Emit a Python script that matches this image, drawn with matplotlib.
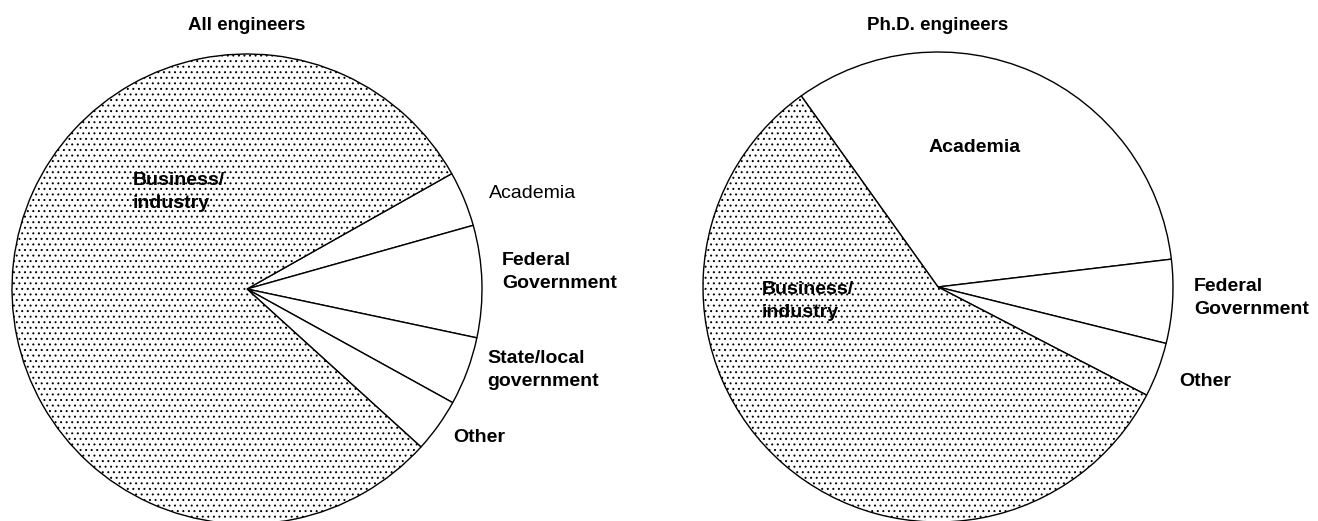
import matplotlib
matplotlib.use('Agg')
import matplotlib.pyplot as plt

W, H = 1318, 521

# All engineers: sector shares (%), clockwise from the Academia edge
all_labels = ['Academia', 'Federal Government', 'State/local government', 'Other', 'Business/industry']
all_share = [3.8, 7.7, 4.7, 3.7, 80.1]
all_hatch = ['', '', '', '', '...']

# Ph.D. engineers
phd_labels = ['Academia', 'Federal Government', 'Other', 'Business/industry']
phd_share = [33.0, 5.75, 3.75, 57.5]
phd_hatch = ['', '', '', '...']

plt.rcParams['font.family'] = ['Liberation Sans', 'DejaVu Sans']
plt.rcParams['hatch.linewidth'] = 0.7
plt.rcParams['hatch.color'] = '#333333'

fig = plt.figure(figsize=(W / 100, H / 100), dpi=100)
ax = fig.add_axes([0, 0, 1, 1])


def draw_pie(values, hatches, cx, cy, start):
    wedges, _ = ax.pie(values, center=(cx, H - cy), radius=235, startangle=start,
                       counterclock=False,
                       wedgeprops=dict(facecolor='white', edgecolor='black', linewidth=1.0))
    for w, h in zip(wedges, hatches):
        w.set_hatch(h)


draw_pie(all_share, all_hatch, 247, 289, 29.4)
draw_pie(phd_share, phd_hatch, 938, 287, 125.6)

ax.set_xlim(0, W)
ax.set_ylim(0, H)
ax.set_aspect('auto')
ax.axis('off')

# titles
ax.text(247, H - 25, 'All engineers', ha='center', va='center', fontsize=13.5, fontweight='bold')
ax.text(938, H - 25, 'Ph.D. engineers', ha='center', va='center', fontsize=13.5, fontweight='bold')

lab = dict(fontsize=14, fontweight='heavy', ha='left', va='center', linespacing=1.4)

# left pie labels
ax.text(133, H - 192, 'Business/\nindustry', **lab)
ax.text(489, H - 193, 'Academia', fontsize=14, ha='left', va='center')
ax.text(502, H - 272, 'Federal\nGovernment', **lab)
ax.text(487, H - 370, 'State/local\ngovernment', **lab)
ax.text(453, H - 437, 'Other', **lab)

# right pie labels
ax.text(929, H - 147, 'Academia', **lab)
ax.text(762, H - 301, 'Business/\nindustry', **lab)
ax.text(1194, H - 298, 'Federal\nGovernment', **lab)
ax.text(1179, H - 382, 'Other', **lab)

fig.savefig('out.png', dpi=100)
